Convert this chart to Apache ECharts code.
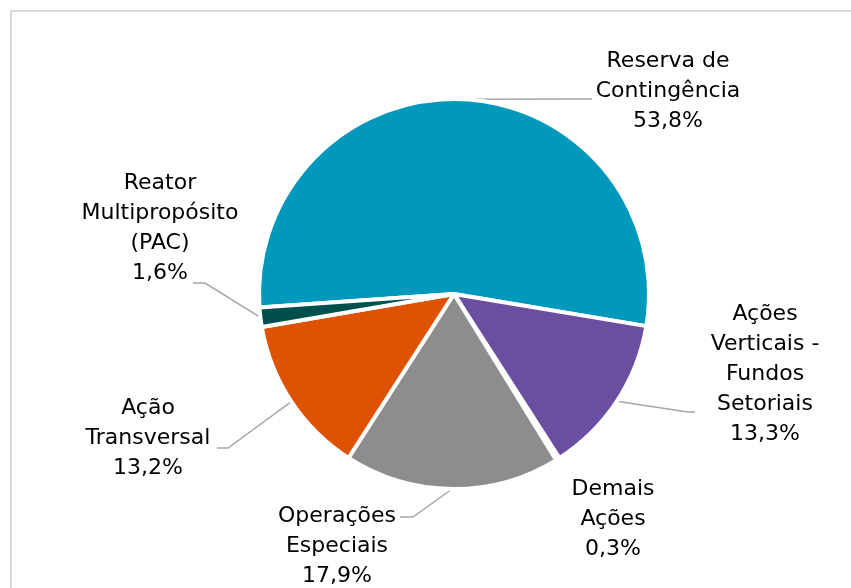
<!DOCTYPE html>
<html>
<head>
<meta charset="utf-8">
<script src="https://cdn.jsdelivr.net/npm/echarts@6/dist/echarts.min.js"></script>
<style>
html,body{margin:0;padding:0;background:#fff;}
#chart{width:851px;height:588px;}
</style>
</head>
<body>
<div id="chart"></div>
<script>
// ---- data ----
const categories = [
  "Reserva de\nContingência",
  "Ações\nVerticais -\nFundos\nSetoriais",
  "Demais\nAções",
  "Operações\nEspeciais",
  "Ação\nTransversal",
  "Reator\nMultipropósito\n(PAC)"
];
const shares = [53.8, 13.3, 0.3, 17.9, 13.2, 1.6];
const colors = ["#0099BB", "#6A4FA0", "#9A9A9A", "#8C8D8F", "#DE5204", "#004F4F"];

// ---- label placement (annotation layout) ----
const labelPos = [
  {x: 668, y: 91,  elbow: [592, 99],  end: [592, 99]},
  {x: 765, y: 374, elbow: [688, 412], end: [695, 412]},
  {x: 613, y: 519, elbow: null,       end: null},
  {x: 337, y: 546, elbow: [413, 517], end: [400, 517]},
  {x: 148, y: 438, elbow: [228, 448], end: [217, 448]},
  {x: 160, y: 228, elbow: [205, 283], end: [193, 283]}
];

const chart = echarts.init(document.getElementById('chart'));
const fmt = v => v.toFixed(1).replace('.', ',') + '%';

chart.setOption({
  animation: false,
  graphic: [{
    type: 'rect',
    shape: {x: 11, y: 11, width: 1000, height: 800},
    style: {fill: 'none', stroke: '#D9D9D9', lineWidth: 2},
    silent: true
  }],
  series: [{
    type: 'pie',
    center: [454, 294],
    radius: 195,
    startAngle: 184,
    clockwise: true,
    avoidLabelOverlap: false,
    itemStyle: {borderColor: '#fff', borderWidth: 4},
    label: {
      show: true,
      position: 'outside',
      fontFamily: 'DejaVu Sans',
      fontSize: 22,
      lineHeight: 30,
      color: '#000',
      align: 'center',
      formatter: p => p.name + '\n' + fmt(p.value)
    },
    labelLine: {show: true, length: 20, length2: 10, lineStyle: {color: '#A6A6A6', width: 1.5}},
    labelLayout: function (params) {
      const L = labelPos[params.dataIndex];
      const out = {x: L.x, y: L.y, align: 'center', verticalAlign: 'middle'};
      if (L.elbow && params.labelLinePoints) {
        out.labelLinePoints = [params.labelLinePoints[0], L.elbow, L.end];
      }
      return out;
    },
    data: categories.map((c, i) => ({
      name: c,
      value: shares[i],
      itemStyle: {color: colors[i]},
      labelLine: {show: labelPos[i].elbow !== null}
    }))
  }]
});
</script>
</body>
</html>
